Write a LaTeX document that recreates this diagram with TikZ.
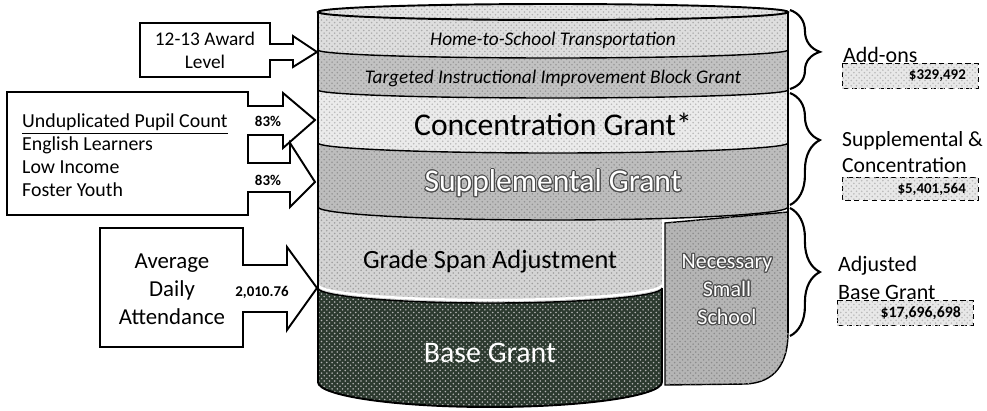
\documentclass[tikz,border=0pt]{standalone}
\usepackage{fontspec}
\setmainfont{Carlito}
\usepackage{contour}
\contourlength{0.6pt}
\usepackage{tikz}
\usetikzlibrary{positioning, decorations.pathreplacing, patterns}

\definecolor{basegreen}{RGB}{44,58,47}
\newcommand{\fsz}[2]{\fontsize{#1}{#2}\selectfont}

\begin{document}
\begin{tikzpicture}[x=0.02cm, y=-0.02cm,
  grain/.style={postaction={pattern=crosshatch dots, pattern color=#1}},
  rim/.style={line width=0.8pt},
  callout/.style={draw, line width=1.1pt, fill=white},
  amount/.style={draw, densely dashed, line width=0.5pt, fill=gray!18, grain=gray!55},
  curly/.style={decorate, decoration={brace, amplitude=17pt, aspect=#1}, line width=1.2pt}
]

\useasboundingbox (0,0) rectangle (987,410);

% Layers of the barrel (y runs downwards, so 180 -> 0 sags)
\fill[gray!22, grain=gray!60] (553,12) ellipse [x radius=235, y radius=8];
\fill[gray!26, grain=gray!65] (318,12) arc[start angle=180, end angle=0, x radius=235, y radius=8]
  -- (788,50) arc[start angle=0, end angle=180, x radius=235, y radius=8] -- cycle;
\fill[gray!48, grain=gray!80] (318,50) arc[start angle=180, end angle=0, x radius=235, y radius=8]
  -- (788,90) arc[start angle=0, end angle=180, x radius=235, y radius=8] -- cycle;
\fill[gray!16, grain=gray!55] (318,90) arc[start angle=180, end angle=0, x radius=235, y radius=8]
  -- (788,143) arc[start angle=0, end angle=180, x radius=235, y radius=10] -- cycle;
\fill[gray!52, grain=gray!85] (318,143) arc[start angle=180, end angle=0, x radius=235, y radius=10]
  -- (788,207) arc[start angle=0, end angle=180, x radius=235, y radius=13] -- cycle;
\fill[gray!34, grain=gray!75] (318,207) arc[start angle=180, end angle=62.4, x radius=235, y radius=13]
  -- (662,288) arc[start angle=0, end angle=180, x radius=172, y radius=15] -- cycle;
\fill[basegreen, grain=gray!60] (318,288) arc[start angle=180, end angle=0, x radius=172, y radius=15]
  -- (662,382) arc[start angle=0, end angle=180, x radius=172, y radius=25] -- cycle;
\filldraw[fill=gray!58, grain=gray!90, rim] (665,223) -- (788,212) -- (788,333)
  .. controls (788,362) and (776,383) .. (745,384) -- (665,385) -- cycle;

% Layer edges
\draw[rim] (318,50) arc[start angle=180, end angle=0, x radius=235, y radius=8];
\draw[rim] (318,90) arc[start angle=180, end angle=0, x radius=235, y radius=8];
\draw[rim] (318,143) arc[start angle=180, end angle=0, x radius=235, y radius=10];
\draw[rim] (318,207) arc[start angle=180, end angle=0, x radius=235, y radius=13];
\draw[white, line width=1.4pt] (318,285) arc[start angle=180, end angle=0, x radius=172, y radius=15];
\draw[rim] (318,288) arc[start angle=180, end angle=0, x radius=172, y radius=15];
\draw[rim] (662,288) -- (662,382);

% Outline
\draw[line width=1.1pt] (553,12) ellipse [x radius=235, y radius=8];
\draw[line width=1.1pt] (318,12) -- (318,382)
  arc[start angle=180, end angle=0, x radius=172, y radius=25];
\draw[line width=1.1pt] (788,12) -- (788,333);

% Layer names
\node[font=\fsz{11}{13}\itshape] (home) at (553,40) {Home-to-School Transportation};
\node[font=\fsz{11}{13}\itshape] (tiibg) at (553,78) {Targeted Instructional Improvement Block Grant};
\node[font=\fsz{18}{21}] (conc) at (553,124) {Concentration Grant*};
\node[font=\fsz{18}{21}, text=white] (supp) at (553,184) {\contour{gray!60!black}{Supplemental Grant}};
\node[font=\fsz{15}{18}] (gsa) at (490,262) {Grade Span Adjustment};
\node[font=\fsz{17}{20}, text=white] (base) at (490,353) {Base Grant};
\node[font=\fsz{12.5}{16}, text=white, align=center] (nss) at (727,290)
  {\contour{gray!60!black}{Necessary}\\\contour{gray!60!black}{Small}\\\contour{gray!60!black}{School}};

% Inputs
\draw[callout] (140,23) -- (270,23) -- (270,44) -- (293,44) -- (293,36) -- (317,52)
  -- (293,67) -- (293,60) -- (270,60) -- (270,77) -- (140,77) -- cycle;
\node[font=\fsz{11}{13}, align=center] (award) at (205,50) {12-13 Award\\Level};

\draw[callout] (7,92) -- (248,92) -- (248,106) -- (283,106) -- (283,93) -- (315,120)
  -- (283,148) -- (283,135) -- (248,135) -- (248,163) -- (290,163) -- (290,143)
  -- (315,182) -- (290,207) -- (290,192) -- (248,192) -- (248,215) -- (7,215) -- cycle;
\node[font=\fsz{11.3}{13}, align=left, anchor=west] (pupils) at (16,155)
  {\underline{Unduplicated Pupil Count}\\English Learners\\Low Income\\Foster Youth};
\node[font=\fsz{8.5}{10}\bfseries] (pctconc) at (268,121) {83\%};
\node[font=\fsz{8.5}{10}\bfseries] (pctsupp) at (268,180) {83\%};

\draw[callout] (100,228) -- (243,228) -- (243,265) -- (287,265) -- (287,247) -- (317,288)
  -- (287,330) -- (287,312) -- (243,312) -- (243,347) -- (100,347) -- cycle;
\node[font=\fsz{13}{16}, align=center] (ada) at (172,289) {Average\\Daily\\Attendance};
\node[font=\fsz{8.5}{10}\bfseries] (adaval) at (262,292) {2,010.76};

% Braces and totals
\coordinate (addtop) at (790,10);
\coordinate (addbot) at (790,89);
\coordinate (suptop) at (790,93);
\coordinate (supbot) at (790,205);
\coordinate (adjtop) at (790,208);
\coordinate (adjbot) at (790,336);
\draw[curly=0.53] (addtop) -- (addbot);
\draw[curly=0.42] (suptop) -- (supbot);
\draw[curly=0.5] (adjtop) -- (adjbot);

\draw[amount] (842,63) rectangle (978,88);
\node[font=\fsz{12.5}{15}, anchor=west] (addons) at (837,55) {Add-ons};
\node[font=\fsz{8.5}{10}\bfseries, anchor=east] (addval) at (972,76) {\$329,492};

\draw[amount] (842,177) rectangle (978,200);
\node[font=\fsz{12.3}{15}, anchor=west, align=left] (suplab) at (836,152) {Supplemental \&\\Concentration};
\node[font=\fsz{8.5}{10}\bfseries, anchor=east] (supval) at (972,189) {\$5,401,564};

\draw[amount] (837,300) rectangle (973,325);
\node[font=\fsz{12.5}{16}, anchor=west, align=left] (adjlab) at (832,278) {Adjusted\\Base Grant};
\node[font=\fsz{9}{10}\bfseries, anchor=east] (adjval) at (967,313) {\$17,696,698};

\end{tikzpicture}
\end{document}
